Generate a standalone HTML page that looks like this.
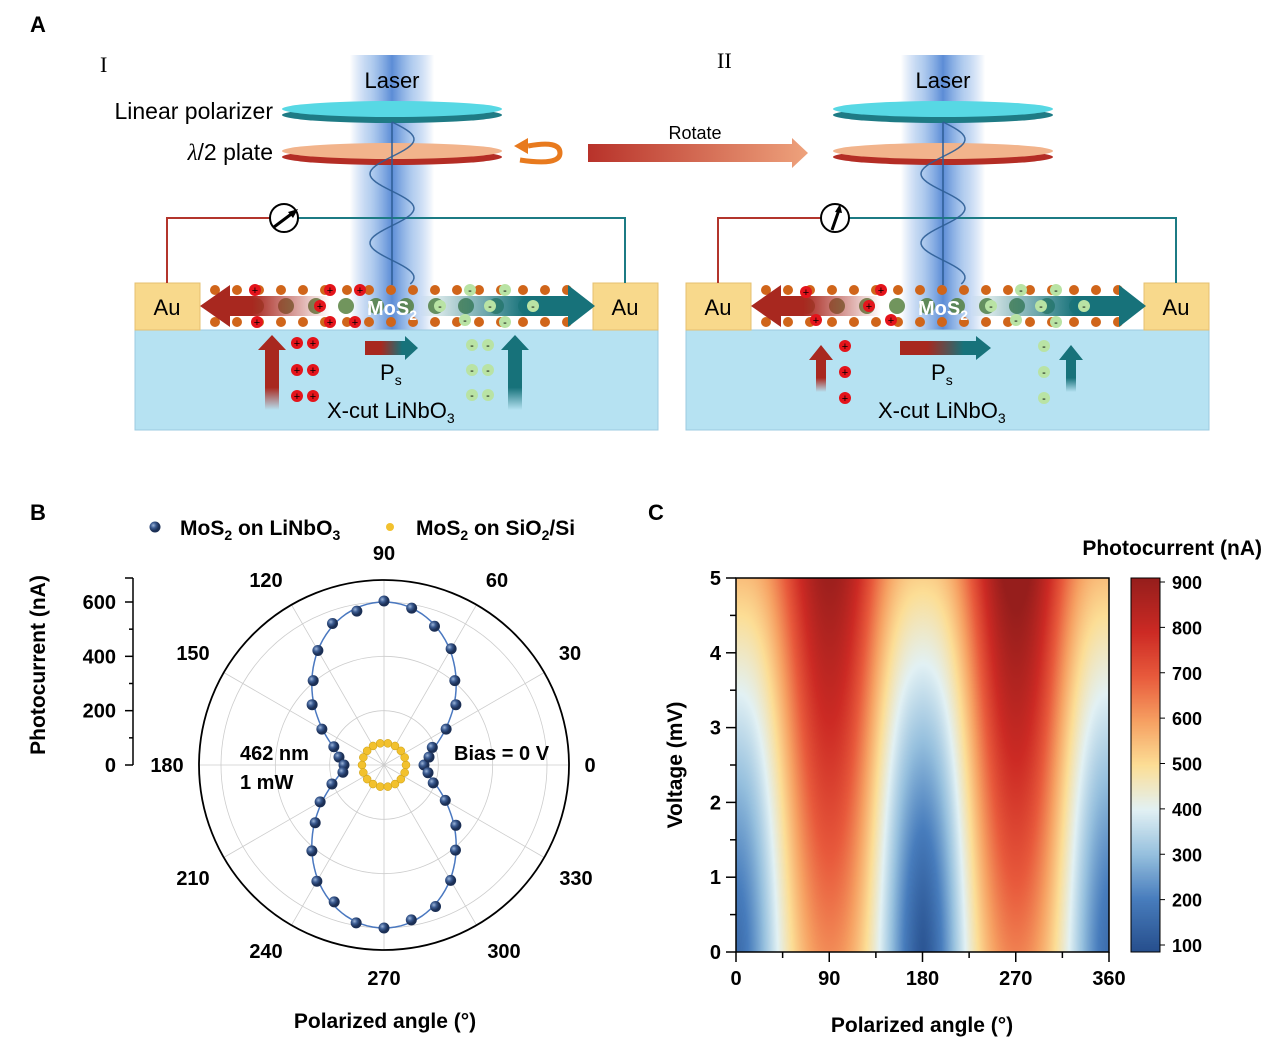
<!DOCTYPE html>
<html><head><meta charset="utf-8"><style>
html,body{margin:0;padding:0;background:#fff;}
#wrap{position:relative;width:1269px;height:1045px;overflow:hidden;font-family:"Liberation Sans",Arial,sans-serif;}
svg{position:absolute;left:0;top:0;}
canvas{position:absolute;}
</style></head><body><div id="wrap">
<canvas id="hm" width="373" height="374" style="left:736px;top:578px"></canvas>
<canvas id="cb" width="29" height="374" style="left:1131px;top:578px"></canvas>
<svg id="s" width="1269" height="1045" xmlns="http://www.w3.org/2000/svg">
<defs>
<linearGradient id="beam" x1="0" x2="1"><stop offset="0" stop-color="#3a7bd5" stop-opacity="0"/><stop offset="0.25" stop-color="#6a9ee0" stop-opacity="0.5"/><stop offset="0.5" stop-color="#3f78cf" stop-opacity="0.85"/><stop offset="0.75" stop-color="#6a9ee0" stop-opacity="0.5"/><stop offset="1" stop-color="#3a7bd5" stop-opacity="0"/></linearGradient>
<linearGradient id="rot" x1="0" x2="1"><stop offset="0" stop-color="#b8322a"/><stop offset="1" stop-color="#eea27c"/></linearGradient>
<linearGradient id="redL" x1="1" x2="0"><stop offset="0" stop-color="#a8281f" stop-opacity="0"/><stop offset="0.6" stop-color="#a8281f"/><stop offset="1" stop-color="#a8281f"/></linearGradient>
<linearGradient id="tealR" x1="0" x2="1"><stop offset="0" stop-color="#17727a" stop-opacity="0"/><stop offset="0.6" stop-color="#17727a"/><stop offset="1" stop-color="#17727a"/></linearGradient>
<linearGradient id="ps" x1="0" x2="1"><stop offset="0.3" stop-color="#a8281f"/><stop offset="0.7" stop-color="#17727a"/></linearGradient>
<linearGradient id="upR" x1="0" x2="0" y1="1" y2="0"><stop offset="0" stop-color="#a8281f" stop-opacity="0"/><stop offset="0.3" stop-color="#a8281f"/></linearGradient>
<linearGradient id="upT" x1="0" x2="0" y1="1" y2="0"><stop offset="0" stop-color="#17727a" stop-opacity="0"/><stop offset="0.3" stop-color="#17727a"/></linearGradient>
<radialGradient id="ball" cx="0.35" cy="0.35"><stop offset="0" stop-color="#9bb4d8"/><stop offset="0.5" stop-color="#3a5a90"/><stop offset="1" stop-color="#1b2f55"/></radialGradient>
</defs>
<g id="A"></g>
<g id="B"></g>
<g id="C"></g>
</svg>
</div>
<script>
const NS="http://www.w3.org/2000/svg";
function el(p,t,a,txt){const e=document.createElementNS(NS,t);for(const k in a)e.setAttribute(k,a[k]);if(txt!==undefined)e.innerHTML=txt;p.appendChild(e);return e;}
const A=document.getElementById('A'),B=document.getElementById('B'),C=document.getElementById('C');
el(A,'text',{x:30,y:32,'font-size':22,'font-weight':'bold'},'A');
el(A,'text',{x:30,y:520,'font-size':22,'font-weight':'bold'},'B');
el(A,'text',{x:648,y:520,'font-size':22,'font-weight':'bold'},'C');
el(A,'text',{x:100,y:72,'font-size':22,'font-family':'Liberation Serif'},'I');
el(A,'text',{x:717,y:68,'font-size':22,'font-family':'Liberation Serif'},'II');
function device(o,second){
  const g=el(A,'g',{transform:'translate('+o+',0)'});
  el(g,'rect',{x:350,y:55,width:84,height:280,fill:'url(#beam)'});
  el(g,'rect',{x:135,y:330,width:523,height:100,fill:'#b6e2f2',stroke:'#9ccbe0'});
  el(g,'rect',{x:135,y:283,width:65,height:47,fill:'#f8d98c',stroke:'#e6c070'});
  el(g,'rect',{x:593,y:283,width:65,height:47,fill:'#f8d98c',stroke:'#e6c070'});
  el(g,'text',{x:167,y:315,'font-size':22,'text-anchor':'middle'},'Au');
  el(g,'text',{x:625,y:315,'font-size':22,'text-anchor':'middle'},'Au');
  el(g,'polyline',{points:'167,283 167,218 270,218',fill:'none',stroke:'#b3352c','stroke-width':2});
  el(g,'polyline',{points:'298,218 625,218 625,283',fill:'none',stroke:'#1c7b84','stroke-width':2});
  el(g,'circle',{cx:284,cy:218,r:14,fill:'#fff',stroke:'#000','stroke-width':2});
  if(!second){el(g,'line',{x1:274,y1:227,x2:294,y2:212,stroke:'#000','stroke-width':3});el(g,'polygon',{points:'298,209 288,212 293,218',fill:'#000'});}
  else {el(g,'line',{x1:281,y1:230,x2:288,y2:210,stroke:'#000','stroke-width':3});el(g,'polygon',{points:'289,204 284,212 291,213',fill:'#000'});}
  el(g,'ellipse',{cx:392,cy:115,rx:110,ry:8,fill:'#1e7b85'});
  el(g,'ellipse',{cx:392,cy:109,rx:110,ry:8,fill:'#57d8e4'});
  el(g,'ellipse',{cx:392,cy:157,rx:110,ry:8,fill:'#b42d25'});
  el(g,'ellipse',{cx:392,cy:151,rx:110,ry:8,fill:'#f2b48c'});
  el(g,'text',{x:392,y:88,'font-size':22,'text-anchor':'middle'},'Laser');
  let d='M392 122';for(let y=122;y<=285;y+=2){const x=392+22*Math.sin((y-122)/11);d+=' L'+x+' '+y;}
  el(g,'path',{d:d,fill:'none',stroke:'#2e5e96','stroke-width':1.5,opacity:0.9});
  el(g,'line',{x1:392,y1:122,x2:392,y2:285,stroke:'#2e5e96','stroke-width':1.5});
  for(let x=215;x<585;x+=22){el(g,'circle',{cx:x,cy:290,r:5,fill:'#d0651a'});el(g,'circle',{cx:x,cy:322,r:5,fill:'#d0651a'});}
  for(let x=226;x<585;x+=30){el(g,'circle',{cx:x,cy:306,r:8,fill:'#4e7a34',opacity:0.8});}
  el(g,'polygon',{points:'330,296 230,296 230,285 200,306 230,327 230,316 330,316',fill:'url(#redL)'});
  el(g,'polygon',{points:'420,296 568,296 568,285 595,306 568,327 568,316 420,316',fill:'url(#tealR)'});
  el(g,'text',{x:392,y:315,'font-size':20,'font-weight':'bold',fill:'#fff','text-anchor':'middle'},'MoS<tspan font-size="14" dy="5">2</tspan>');
  const pp=second?[[255,292],[265,320],[318,306],[330,290],[340,320]]:[[255,290],[257,322],[320,306],[330,290],[355,322],[360,290],[330,322]];
  pp.forEach(p=>{el(g,'circle',{cx:p[0],cy:p[1],r:6,fill:'#e4141b'});el(g,'text',{x:p[0],y:p[1]+4,'font-size':11,'text-anchor':'middle',fill:'#000'},'+');});
  const nn=[[440,306],[470,290],[465,320],[490,306],[505,290],[505,322],[533,306]];
  nn.forEach(p=>{el(g,'circle',{cx:p[0],cy:p[1],r:6,fill:'#b9e3a4'});el(g,'text',{x:p[0],y:p[1]+4,'font-size':11,'text-anchor':'middle'},'-');});
  if(!second){
    el(g,'polygon',{points:'265,410 265,350 258,350 272,335 286,350 279,350 279,410',fill:'url(#upR)'});
    el(g,'polygon',{points:'508,410 508,350 501,350 515,335 529,350 522,350 522,410',fill:'url(#upT)'});
    [[297,343],[313,343],[297,370],[313,370],[297,396],[313,396]].forEach(p=>{el(g,'circle',{cx:p[0],cy:p[1],r:6,fill:'#e4141b'});el(g,'text',{x:p[0],y:p[1]+4,'font-size':11,'text-anchor':'middle'},'+');});
    [[472,345],[488,345],[472,370],[488,370],[472,395],[488,395]].forEach(p=>{el(g,'circle',{cx:p[0],cy:p[1],r:6,fill:'#b9e3a4'});el(g,'text',{x:p[0],y:p[1]+4,'font-size':11,'text-anchor':'middle'},'-');});
    el(g,'polygon',{points:'365,341 405,341 405,336 418,348 405,360 405,355 365,355',fill:'url(#ps)'});
  } else {
    el(g,'polygon',{points:'265,392 265,360 258,360 270,345 282,360 275,360 275,392',fill:'url(#upR)'});
    el(g,'polygon',{points:'515,392 515,360 508,360 520,345 532,360 525,360 525,392',fill:'url(#upT)'});
    [[294,346],[294,372],[294,398]].forEach(p=>{el(g,'circle',{cx:p[0],cy:p[1],r:6,fill:'#e4141b'});el(g,'text',{x:p[0],y:p[1]+4,'font-size':11,'text-anchor':'middle'},'+');});
    [[493,346],[493,372],[493,398]].forEach(p=>{el(g,'circle',{cx:p[0],cy:p[1],r:6,fill:'#b9e3a4'});el(g,'text',{x:p[0],y:p[1]+4,'font-size':11,'text-anchor':'middle'},'-');});
    el(g,'polygon',{points:'349,341 425,341 425,336 440,348 425,360 425,355 349,355',fill:'url(#ps)'});
  }
  el(g,'text',{x:380,y:380,'font-size':22},'P<tspan font-size="14" dy="5">s</tspan>');
  el(g,'text',{x:327,y:418,'font-size':22},'X-cut LiNbO<tspan font-size="14" dy="5">3</tspan>');
}
device(0,false);device(551,true);
el(A,'text',{x:273,y:119,'font-size':23,'text-anchor':'end'},'Linear polarizer');
el(A,'text',{x:273,y:160,'font-size':23,'text-anchor':'end'},'<tspan font-style="italic" font-family="Liberation Serif">λ</tspan>/2 plate');
el(A,'path',{d:'M528 146 Q560 140 560 153 Q560 166 520 160',fill:'none',stroke:'#e87a1e','stroke-width':5});
el(A,'polygon',{points:'514,146 528,138 528,154',fill:'#e87a1e'});
el(A,'polygon',{points:'588,144 792,144 792,138 808,153 792,168 792,162 588,162',fill:'url(#rot)'});
el(A,'text',{x:695,y:139,'font-size':18,'text-anchor':'middle'},'Rotate');

const cx=384,cy=765,R=185,k=163/600;
for(let r=200;r<=600;r+=200) el(B,'circle',{cx,cy,r:r*k,fill:'none',stroke:'#ccc','stroke-width':0.8});
for(let a=0;a<180;a+=30){const t=a*Math.PI/180;el(B,'line',{x1:cx-R*Math.cos(t),y1:cy+R*Math.sin(t),x2:cx+R*Math.cos(t),y2:cy-R*Math.sin(t),stroke:'#ccc','stroke-width':0.8});}
el(B,'circle',{cx,cy,r:R,fill:'none',stroke:'#000','stroke-width':1.8});
const labs={0:[590,772],30:[570,660],60:[497,587],90:[384,560],120:[266,587],150:[193,660],180:[167,772],210:[193,885],240:[266,958],270:[384,985],300:[504,958],330:[576,885]};
for(const a in labs) el(B,'text',{x:labs[a][0],y:labs[a][1],'font-size':20,'font-weight':'bold','text-anchor':'middle'},a);
let d='';
for(let a=0;a<=360;a+=2){const t=a*Math.PI/180;const r=40+123*Math.pow(Math.sin(t),2);d+=(a?'L':'M')+(cx+r*Math.cos(t)).toFixed(1)+' '+(cy-r*Math.sin(t)).toFixed(1);}
el(B,'path',{d:d,fill:'none',stroke:'#4a78c0','stroke-width':1.5});
for(let a=0;a<360;a+=20){const t=a*Math.PI/180;el(B,'circle',{cx:cx+22*Math.cos(t),cy:cy-22*Math.sin(t),r:4,fill:'#f2c12e',stroke:'#c79a10','stroke-width':0.5});}
const jit=[0,2,-3,1,3,-2,2,-1,0,1,-3,2,0,-2,3,1,-1,2,0,-2,1,3,-1,0,2,-3,1,0,-2,2,1,-1,3,0,-2,1];
for(let i=0;i<36;i++){const a=i*10;const t=a*Math.PI/180;const r=40+123*Math.pow(Math.sin(t),2)+jit[i];el(B,'circle',{cx:cx+r*Math.cos(t),cy:cy-r*Math.sin(t),r:5.5,fill:'url(#ball)'});}
el(B,'line',{x1:133,y1:578,x2:133,y2:765,stroke:'#000','stroke-width':1.5});
for(let v=0;v<=650;v+=100){const y=cy-v*k;el(B,'line',{x1:133,y1:y,x2:v%200==0?125:129,y2:y,stroke:'#000','stroke-width':1.5});}
el(B,'line',{x1:125,y1:578,x2:133,y2:578,stroke:'#000','stroke-width':1.5});
[0,200,400,600].forEach(v=>el(B,'text',{x:116,y:cy-v*k+7,'font-size':20,'font-weight':'bold','text-anchor':'end'},v));
el(B,'text',{x:45,y:665,'font-size':21,'font-weight':'bold','text-anchor':'middle',transform:'rotate(-90 45 665)'},'Photocurrent (nA)');
el(B,'text',{x:240,y:760,'font-size':20,'font-weight':'bold'},'462 nm');
el(B,'text',{x:240,y:789,'font-size':20,'font-weight':'bold'},'1 mW');
el(B,'text',{x:454,y:760,'font-size':20,'font-weight':'bold'},'Bias = 0 V');
el(B,'text',{x:385,y:1028,'font-size':21,'font-weight':'bold','text-anchor':'middle'},'Polarized angle (°)');
el(B,'circle',{cx:155,cy:527,r:5.5,fill:'url(#ball)'});
el(B,'text',{x:180,y:535,'font-size':21,'font-weight':'bold'},'MoS<tspan font-size="14" dy="5">2</tspan><tspan dy="-5"> on LiNbO</tspan><tspan font-size="14" dy="5">3</tspan>');
el(B,'circle',{cx:390,cy:527,r:4,fill:'#f2c12e'});
el(B,'text',{x:416,y:535,'font-size':21,'font-weight':'bold'},'MoS<tspan font-size="14" dy="5">2</tspan><tspan dy="-5"> on SiO</tspan><tspan font-size="14" dy="5">2</tspan><tspan dy="-5">/Si</tspan>');

const stops=[[80,[38,78,140]],[200,[72,125,189]],[300,[150,192,222]],[400,[226,241,244]],[500,[252,222,150]],[600,[246,160,98]],[700,[232,90,60]],[800,[204,42,36]],[920,[150,30,28]]];
function col(v){if(v<=stops[0][0])return stops[0][1];for(let i=1;i<stops.length;i++){if(v<=stops[i][0]){const a=stops[i-1],b=stops[i];const f=(v-a[0])/(b[0]-a[0]);return a[1].map((c,j)=>c+(b[1][j]-c)*f);}}return stops[stops.length-1][1];}
const hc=document.getElementById('hm').getContext('2d');const W=373,H=374;const img=hc.createImageData(W,H);
for(let y=0;y<H;y++){const V=5*(1-y/H);for(let x=0;x<W;x++){const th=x/W*Math.PI*2;const s=Math.abs(Math.sin(th));
 const edge=Math.abs(Math.cos(th/2)); // 1 at 0/360, 0 at 180
 const mn=100+420*Math.pow(V/5,1.3)+60*edge*(1-V/10);
 const mx=630+55*V+(th>Math.PI?15+5*V:0);
 const v=mn+(mx-mn)*Math.pow(s,1.5+0.25*V);
 const c=col(v);const i=(y*W+x)*4;img.data[i]=c[0];img.data[i+1]=c[1];img.data[i+2]=c[2];img.data[i+3]=255;}}
hc.putImageData(img,0,0);
const cc=document.getElementById('cb').getContext('2d');
for(let y=0;y<374;y++){const v=920-(y/374)*840;const c=col(v);cc.fillStyle='rgb('+c.map(Math.round).join(',')+')';cc.fillRect(0,y,29,1);}
el(C,'rect',{x:736,y:578,width:373,height:374,fill:'none',stroke:'#000','stroke-width':1.5});
el(C,'rect',{x:1131,y:578,width:29,height:374,fill:'none',stroke:'#000','stroke-width':1});
for(let i=0;i<=8;i++){const x=736+i*373/8;el(C,'line',{x1:x,y1:952,x2:x,y2:i%2?958:962,stroke:'#000','stroke-width':1.5});}
[0,90,180,270,360].forEach((v,i)=>el(C,'text',{x:736+i*373/4,y:985,'font-size':20,'font-weight':'bold','text-anchor':'middle'},v));
for(let i=0;i<=10;i++){const y=952-i*374/10;el(C,'line',{x1:736,y1:y,x2:i%2?730:726,y2:y,stroke:'#000','stroke-width':1.5});}
for(let i=0;i<=5;i++) el(C,'text',{x:721,y:952-i*374/5+7,'font-size':20,'font-weight':'bold','text-anchor':'end'},i);
for(let v=100;v<=900;v+=100){const y=945-(v-100)*(363/800);el(C,'line',{x1:1160,y1:y,x2:1165,y2:y,stroke:'#000','stroke-width':1});el(C,'text',{x:1172,y:y+7,'font-size':18,'font-weight':'bold'},v);}
el(C,'text',{x:922,y:1032,'font-size':21,'font-weight':'bold','text-anchor':'middle'},'Polarized angle (°)');
el(C,'text',{x:682,y:765,'font-size':21,'font-weight':'bold','text-anchor':'middle',transform:'rotate(-90 682 765)'},'Voltage (mV)');
el(C,'text',{x:1262,y:555,'font-size':21,'font-weight':'bold','text-anchor':'end'},'Photocurrent (nA)');
</script>
</body></html>
